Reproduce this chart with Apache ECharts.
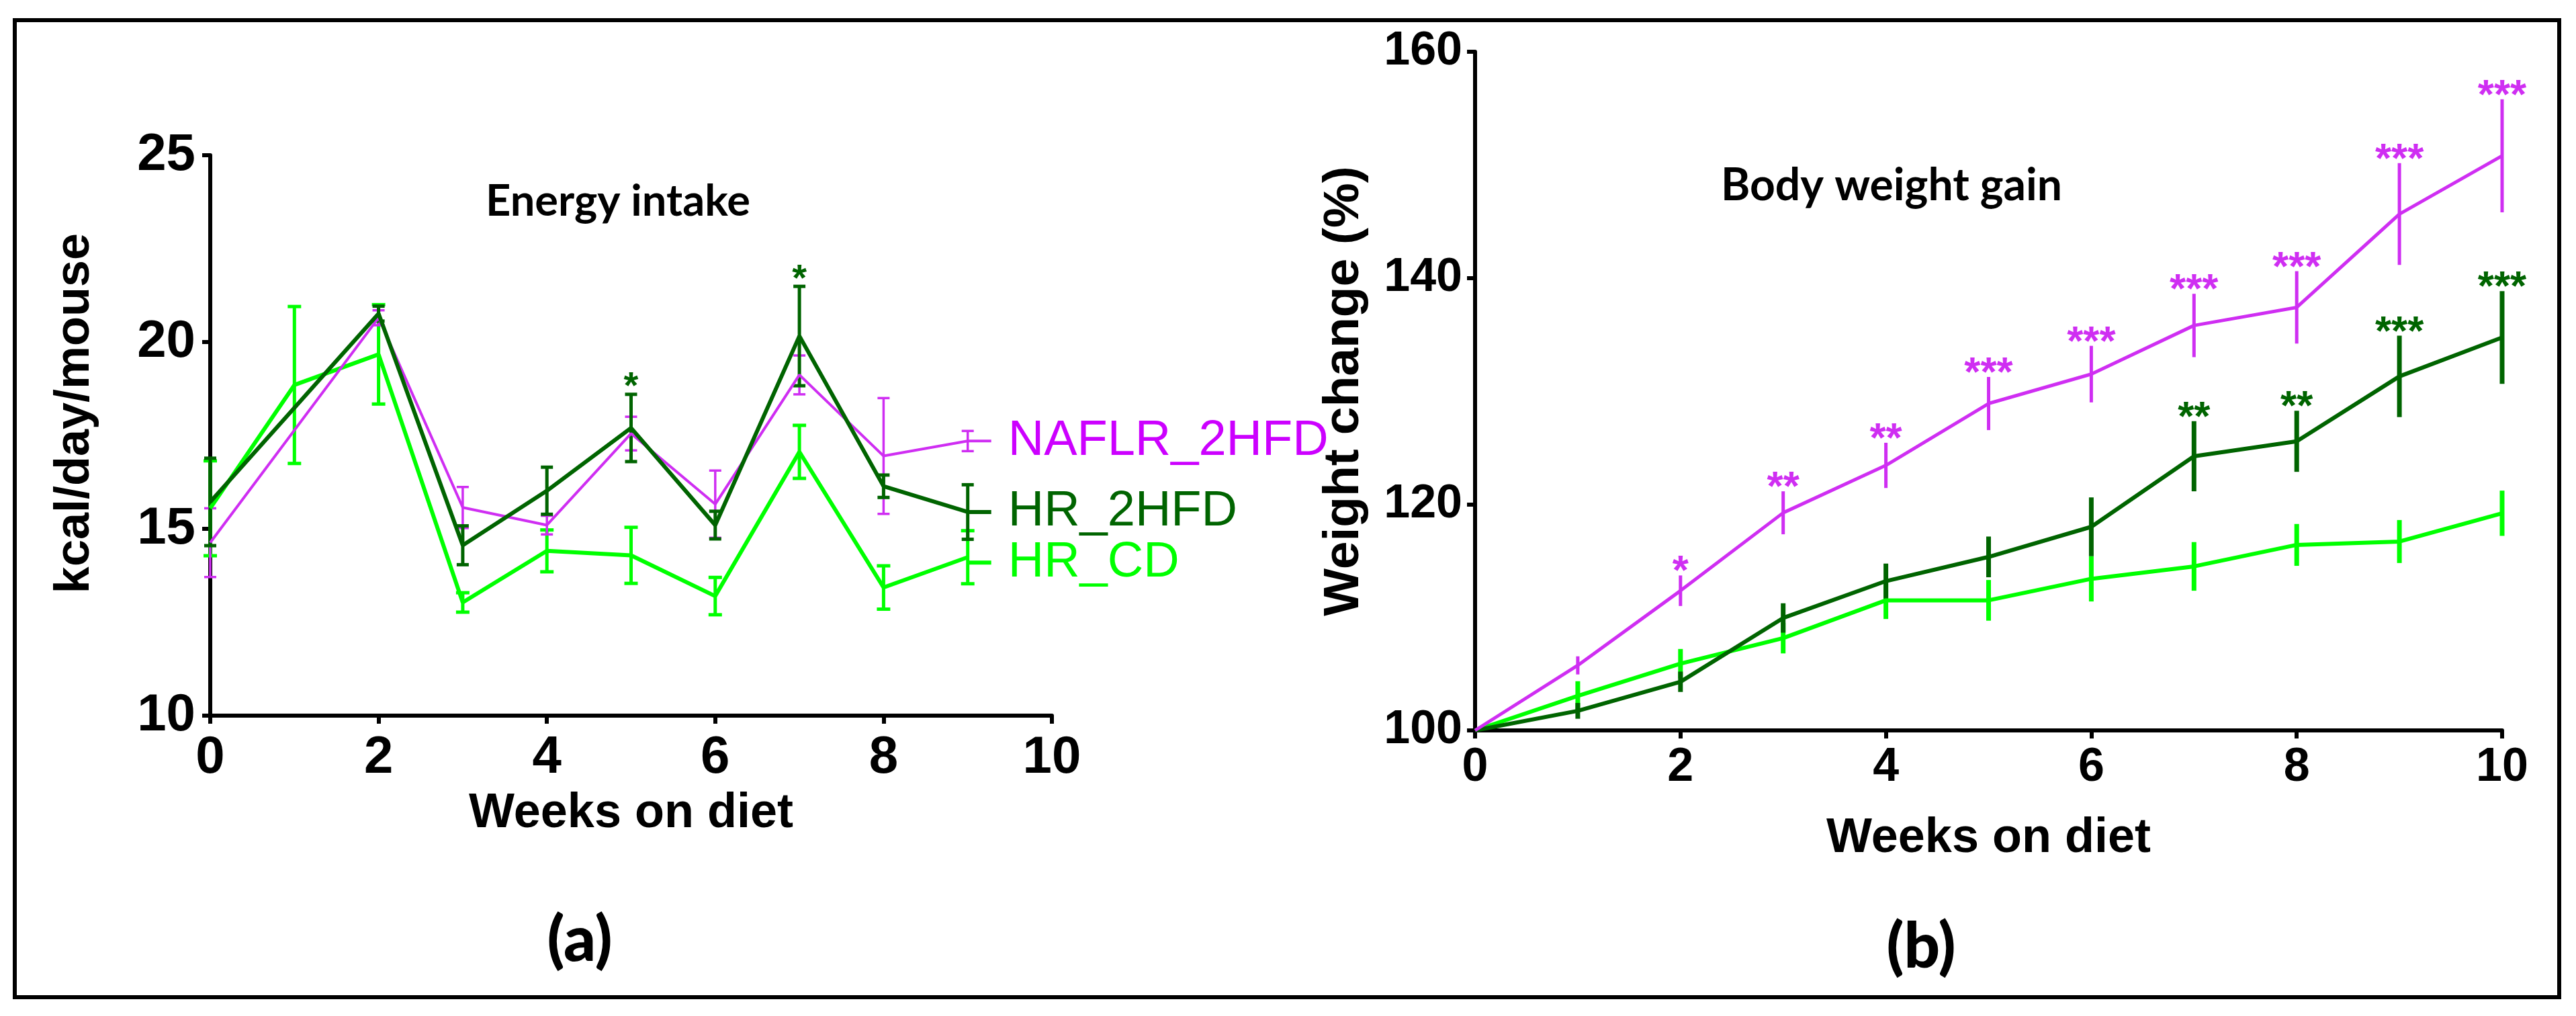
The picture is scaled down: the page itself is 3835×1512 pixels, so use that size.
<!DOCTYPE html>
<html>
<head>
<meta charset="utf-8">
<script src="https://cdn.jsdelivr.net/npm/echarts@6/dist/echarts.min.js"></script>
<style>
  html, body {
    margin: 0;
    padding: 0;
    background: #fff;
  }
  #chart {
    width: 3835px;
    height: 1512px;
  }
</style>
</head>
<body>
<div id="chart"></div>
<script>
// (a) energy intake, kcal/day/mouse, mean and error per week (null = no point)
var weeksA = [0, 1, 2, 3, 4, 5, 6, 7, 8, 9];
var naflrKcal = [14.63, null, 20.65, 15.57, 15.1, 17.55, 15.66, 19.12, 16.95, 17.35];
var naflrKcalErr = [0.92, null, 0.2, 0.55, 0.25, 0.45, 0.9, 0.52, 1.55, 0.27];
var hr2hfdKcal = [15.72, null, 20.76, 14.56, 16.02, 17.7, 15.1, 20.16, 16.14, 15.45];
var hr2hfdKcalErr = [1.17, null, 0.2, 0.52, 0.63, 0.9, 0.37, 1.33, 0.3, 0.73];
var hrcdKcal = [15.55, 18.85, 19.67, 13.03, 14.41, 14.29, 13.2, 17.06, 13.43, 14.24];
var hrcdKcalErr = [1.27, 2.1, 1.33, 0.26, 0.56, 0.75, 0.5, 0.71, 0.58, 0.71];
var hr2hfdKcalStars = ['', '', '', '', '', '*', '', '*', '', ''];

// (b) body weight gain, % of start
var weeksB = [0, 1, 2, 3, 4, 5, 6, 7, 8, 9, 10];
var naflrGain = [100, 105.75, 112.35, 119.24, 123.43, 128.9, 131.5, 135.8, 137.4, 145.65, 150.8];
var naflrGainErr = [0, 0.8, 1.35, 1.9, 2.0, 2.35, 2.5, 2.8, 3.2, 4.5, 5.0];
var hr2hfdGain = [100, 101.73, 104.3, 109.94, 113.2, 115.34, 118.0, 124.24, 125.56, 131.3, 134.74];
var hr2hfdGainErr = [0, 0.7, 0.9, 1.3, 1.55, 1.8, 2.6, 3.1, 2.7, 3.6, 4.1];
var hrcdGain = [100, 103.05, 105.9, 108.16, 111.5, 111.5, 113.4, 114.5, 116.4, 116.7, 119.2];
var hrcdGainErr = [0, 1.3, 1.3, 1.35, 1.65, 1.8, 2.0, 2.15, 1.85, 1.9, 2.0];
var naflrGainStars = ['', '', '*', '**', '**', '***', '***', '***', '***', '***', '***'];
var hr2hfdGainStars = ['', '', '', '', '', '', '', '**', '**', '***', '***'];

var seriesNames = ['NAFLR_2HFD', 'HR_2HFD', 'HR_CD'];
var magenta = '#CF2EF2';
var darkGreen = '#006400';
var lightGreen = '#00FF00';
var numFont = '"Liberation Sans", Arial, sans-serif';
var titleFont = 'Lato, "Open Sans", sans-serif';

function pairs(weeks, vals) {
  var out = [];
  weeks.forEach(function (w, i) {
    if (vals[i] !== null) out.push([w, vals[i]]);
  });
  return out;
}

function lineSeries(idx, weeks, vals, color, width, label) {
  var s = {
    type: 'line',
    name: label ? label.name : undefined,
    xAxisIndex: idx,
    yAxisIndex: idx,
    data: pairs(weeks, vals),
    showSymbol: false,
    symbol: 'none',
    silent: true,
    lineStyle: { color: color, width: width },
    itemStyle: { color: color }
  };
  if (label) {
    s.endLabel = {
      show: true,
      distance: 0,
      offset: [0, label.dy || 0],
      formatter: '{s|}{t|' + label.name + '}',
      rich: {
        s: { width: 35, height: width, backgroundColor: color, verticalAlign: 'middle' },
        t: {
          fontSize: 74, fontFamily: numFont, color: label.color,
          padding: [0, 0, 0, 25], verticalAlign: 'middle'
        }
      }
    };
  }
  return s;
}

function errSeries(idx, weeks, vals, errs, color, width, cap, stars, starSize, starLift) {
  var data = [];
  weeks.forEach(function (w, i) {
    if (vals[i] !== null) data.push([w, vals[i], errs[i], i]);
  });
  return {
    type: 'custom',
    xAxisIndex: idx,
    yAxisIndex: idx,
    data: data,
    encode: { x: 0, y: 1 },
    silent: true,
    renderItem: function (params, api) {
      var w = api.value(0), v = api.value(1), e = api.value(2), i = api.value(3);
      var top = api.coord([w, v + e]);
      var bot = api.coord([w, v - e]);
      var kids = [];
      if (e > 0) {
        kids.push({
          type: 'line',
          shape: { x1: top[0], y1: top[1], x2: bot[0], y2: bot[1] },
          style: { stroke: color, lineWidth: width }
        });
        if (cap) {
          [top, bot].forEach(function (p) {
            kids.push({
              type: 'line',
              shape: { x1: p[0] - cap, y1: p[1], x2: p[0] + cap, y2: p[1] },
              style: { stroke: color, lineWidth: width }
            });
          });
        }
      }
      if (stars && stars[i]) {
        kids.push({
          type: 'text',
          x: top[0],
          y: top[1] - starLift,
          style: {
            text: stars[i], fill: color, fontSize: starSize, fontWeight: 'bold',
            fontFamily: numFont, align: 'center', verticalAlign: 'middle'
          }
        });
      }
      return { type: 'group', children: kids };
    }
  };
}

function axisBase(fontSize, margin, nameSize) {
  return {
    axisLine: { show: true, lineStyle: { color: '#000', width: 6 } },
    axisTick: { show: true, length: 12, lineStyle: { color: '#000', width: 6 } },
    axisLabel: { color: '#000', fontSize: fontSize, fontWeight: 'bold', fontFamily: numFont, margin: margin },
    splitLine: { show: false },
    nameLocation: 'middle',
    nameTextStyle: { color: '#000', fontSize: nameSize, fontWeight: 'bold', fontFamily: numFont }
  };
}

var xA = Object.assign(axisBase(78, 24, 72), {
  type: 'value', gridIndex: 0, min: 0, max: 10, interval: 2,
  name: 'Weeks on diet', nameGap: 110
});
var yA = Object.assign(axisBase(78, 22, 72), {
  type: 'value', gridIndex: 0, min: 10, max: 25, interval: 5,
  name: 'kcal/day/mouse', nameGap: 165
});
yA.nameTextStyle = Object.assign({}, yA.nameTextStyle, { padding: [0, 0, 0, 66] });

var xB = Object.assign(axisBase(70, 21, 72), {
  type: 'value', gridIndex: 1, min: 0, max: 10, interval: 2,
  name: 'Weeks on diet', nameGap: 125
});
var yB = Object.assign(axisBase(70, 19, 75), {
  type: 'value', gridIndex: 1, min: 100, max: 160, interval: 20,
  name: 'Weight change (%)', nameGap: 157
});

var chart = echarts.init(document.getElementById('chart'));
var option = {
  animation: false,
  backgroundColor: '#fff',
  grid: [
    { left: 313, right: 2269, top: 231, bottom: 447 },
    { left: 2196, right: 110, top: 77, bottom: 425 }
  ],
  xAxis: [xA, xB],
  yAxis: [yA, yB],
  graphic: [
    {
      type: 'rect',
      shape: { x: 22, y: 30, width: 3788, height: 1454 },
      style: { fill: 'none', stroke: '#000', lineWidth: 6 },
      silent: true
    },
    {
      type: 'text', x: 920, y: 300,
      style: { text: 'Energy intake', fontSize: 65, fontWeight: 'bold', fontFamily: titleFont, fill: '#000', align: 'center', verticalAlign: 'middle' }
    },
    {
      type: 'text', x: 2816, y: 277,
      style: { text: 'Body weight gain', fontSize: 66, fontWeight: 'bold', fontFamily: titleFont, fill: '#000', align: 'center', verticalAlign: 'middle' }
    },
    {
      type: 'text', x: 863, y: 1400,
      style: { text: '(a)', fontSize: 94, fontWeight: 900, fontFamily: titleFont, fill: '#000', align: 'center', verticalAlign: 'middle' }
    },
    {
      type: 'text', x: 2860, y: 1410,
      style: { text: '(b)', fontSize: 94, fontWeight: 900, fontFamily: titleFont, fill: '#000', align: 'center', verticalAlign: 'middle' }
    }
  ],
  series: [
    // (a)
    lineSeries(0, weeksA, hrcdKcal, lightGreen, 6, { name: seriesNames[2], color: lightGreen, dy: 8 }),
    errSeries(0, weeksA, hrcdKcal, hrcdKcalErr, lightGreen, 5, 10, null),
    lineSeries(0, weeksA, naflrKcal, magenta, 4, { name: seriesNames[0], color: '#CC00FF' }),
    errSeries(0, weeksA, naflrKcal, naflrKcalErr, magenta, 3.5, 9, null),
    lineSeries(0, weeksA, hr2hfdKcal, darkGreen, 6, { name: seriesNames[1], color: darkGreen }),
    errSeries(0, weeksA, hr2hfdKcal, hr2hfdKcalErr, darkGreen, 5, 9, hr2hfdKcalStars, 56, 10),
    // (b)
    lineSeries(1, weeksB, hrcdGain, lightGreen, 6, null),
    errSeries(1, weeksB, hrcdGain, hrcdGainErr, lightGreen, 7, 0, null),
    lineSeries(1, weeksB, hr2hfdGain, darkGreen, 6, null),
    errSeries(1, weeksB, hr2hfdGain, hr2hfdGainErr, darkGreen, 7, 0, hr2hfdGainStars, 62, 4),
    lineSeries(1, weeksB, naflrGain, magenta, 5, null),
    errSeries(1, weeksB, naflrGain, naflrGainErr, magenta, 5, 0, naflrGainStars, 62, 4)
  ]
};
chart.setOption(option);
</script>
</body>
</html>
